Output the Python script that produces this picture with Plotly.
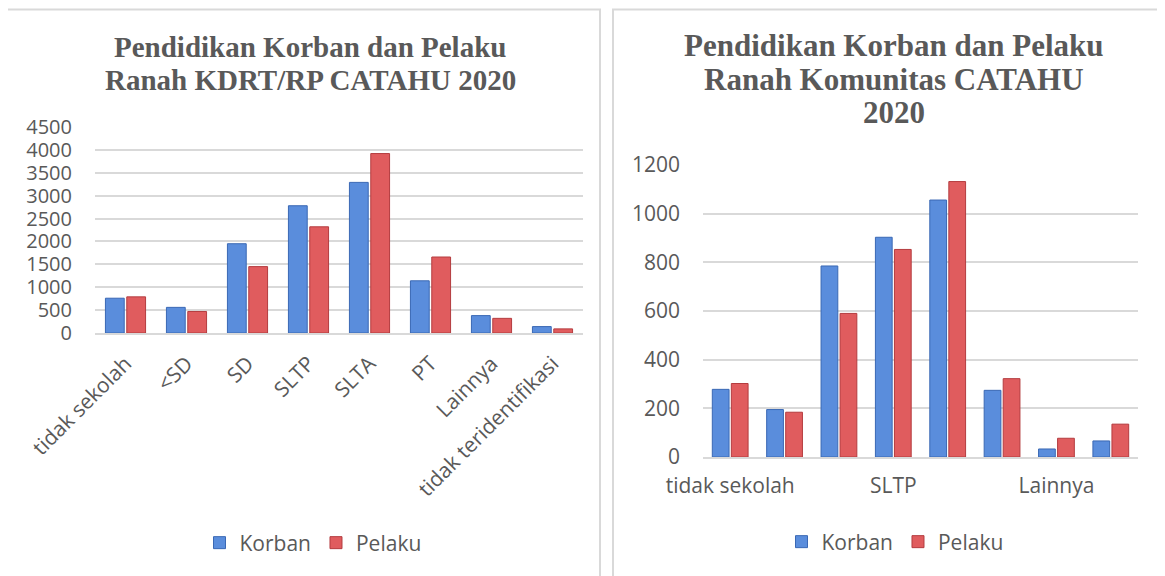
import plotly.graph_objects as go

categories = ["tidak sekolah", "<SD", "SD", "SLTP", "SLTA", "PT", "Lainnya", "tidak teridentifikasi"]
left_korban = [760, 560, 1950, 2780, 3290, 1140, 380, 140]
left_pelaku = [790, 470, 1450, 2320, 3920, 1660, 320, 90]
right_korban = [278, 195, 785, 903, 1056, 274, 33, 66]
right_pelaku = [302, 184, 590, 853, 1132, 322, 77, 135]
right_tick_labels = ["tidak sekolah", "SLTP", "Lainnya"]

left_title_lines = ["Pendidikan Korban dan Pelaku", "Ranah KDRT/RP CATAHU 2020"]
right_title_lines = ["Pendidikan Korban dan Pelaku", "Ranah Komunitas CATAHU", "2020"]

W, H = 1165, 576
OFF = 8  # default page body margin
BLUE, BLUE_LINE = "#5a8ddc", "#3a68b4"
RED, RED_LINE = "#e05c5e", "#b43c3f"
TXT = "#595959"
GRID = "#d9d9d9"
SANS = "Open Sans"
SERIF = "Liberation Serif"


def px_x(p):
    return (p - OFF) / W


def px_y(p):
    return 1 - (p - OFF) / H


fig = go.Figure()
fig.add_trace(go.Bar(x=categories, y=left_korban, name="Korban", xaxis="x", yaxis="y",
                     marker=dict(color=BLUE, line=dict(color=BLUE_LINE, width=1)), legend="legend"))
fig.add_trace(go.Bar(x=categories, y=left_pelaku, name="Pelaku", xaxis="x", yaxis="y",
                     marker=dict(color=RED, line=dict(color=RED_LINE, width=1)), legend="legend"))
fig.add_trace(go.Bar(x=categories, y=right_korban, name="Korban", xaxis="x2", yaxis="y2",
                     marker=dict(color=BLUE, line=dict(color=BLUE_LINE, width=1)), legend="legend2"))
fig.add_trace(go.Bar(x=categories, y=right_pelaku, name="Pelaku", xaxis="x2", yaxis="y2",
                     marker=dict(color=RED, line=dict(color=RED_LINE, width=1)), legend="legend2"))

annotations = []
for i, line in enumerate(left_title_lines):
    annotations.append(dict(text="<b>" + line + "</b>", xref="paper", yref="paper",
                            x=px_x(310), y=px_y(47 + 33 * i), xanchor="center", yanchor="middle",
                            showarrow=False, font=dict(family=SERIF, size=29, color=TXT)))
for i, line in enumerate(right_title_lines):
    annotations.append(dict(text="<b>" + line + "</b>", xref="paper", yref="paper",
                            x=px_x(894), y=px_y(46 + 33.5 * i), xanchor="center", yanchor="middle",
                            showarrow=False, font=dict(family=SERIF, size=31, color=TXT)))

fig.update_layout(
    width=W, height=H,
    margin=dict(l=0, r=0, t=0, b=0, autoexpand=False),
    paper_bgcolor="white", plot_bgcolor="white",
    barmode="group", bargap=0.3, bargroupgap=0.12,
    xaxis=dict(domain=[px_x(95), px_x(583)], anchor="y", type="category",
               tickangle=-45, tickfont=dict(family=SANS, size=21, color=TXT), showgrid=False,
               showline=True, linecolor=GRID, linewidth=2, ticks="", ticklabelstandoff=8,
               automargin=False),
    yaxis=dict(domain=[px_y(333), px_y(127)], anchor="x", range=[0, 4500],
               tickvals=[0, 500, 1000, 1500, 2000, 2500, 3000, 3500, 4000, 4500],
               tickfont=dict(family=SANS, size=20, color=TXT), showgrid=True,
               gridcolor=GRID, gridwidth=1.5,
               zeroline=False, showline=False, ticklabelstandoff=22, automargin=False),
    xaxis2=dict(domain=[px_x(703), px_x(1138)], anchor="y2", type="category",
                tickmode="array", tickvals=[categories[0], categories[3], categories[6]],
                ticktext=right_tick_labels, tickangle=0,
                tickfont=dict(family=SANS, size=21, color=TXT), showgrid=False,
                showline=True, linecolor=GRID, linewidth=2, ticks="", ticklabelstandoff=9,
                automargin=False),
    yaxis2=dict(domain=[px_y(457), px_y(165)], anchor="x2", range=[0, 1200],
                tickvals=[0, 200, 400, 600, 800, 1000, 1200],
                tickfont=dict(family=SANS, size=21, color=TXT), showgrid=True,
                gridcolor=GRID, gridwidth=1.5, zeroline=False, showline=False,
                ticklabelstandoff=22, automargin=False),
    legend=dict(orientation="h", x=px_x(313), xanchor="center", y=px_y(543), yanchor="middle",
                font=dict(family=SANS, size=21, color=TXT), itemwidth=30,
                bgcolor="rgba(0,0,0,0)"),
    legend2=dict(orientation="h", x=px_x(895), xanchor="center", y=px_y(542), yanchor="middle",
                 font=dict(family=SANS, size=21, color=TXT), itemwidth=30,
                 bgcolor="rgba(0,0,0,0)"),
    annotations=annotations,
    shapes=[
        dict(type="rect", xref="paper", yref="paper", x0=px_x(7), x1=px_x(600),
             y0=px_y(600), y1=px_y(9.5), line=dict(color=GRID, width=2), fillcolor="rgba(0,0,0,0)",
             layer="below"),
        dict(type="rect", xref="paper", yref="paper", x0=px_x(613), x1=px_x(1163),
             y0=px_y(600), y1=px_y(9.5), line=dict(color=GRID, width=2), fillcolor="rgba(0,0,0,0)",
             layer="below"),
    ],
)

fig.write_html("out.html")
